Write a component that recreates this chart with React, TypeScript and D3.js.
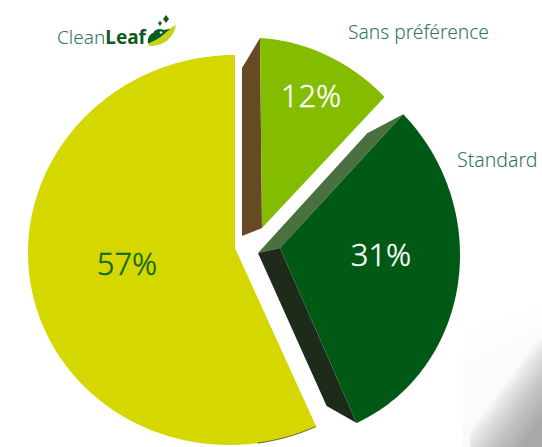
import React from "react";
import * as d3 from "d3";

const categories = ["Sans préférence", "Standard", "CleanLeaf"];
const values = [12, 31, 57];
const colors = ["#84BD00", "#005A16", "#D4D700"];
const labelColors = ["#ffffff", "#ffffff", "#0F661E"];
const labelPos = [[311, 107], [381, 266], [127, 275]];

// per-slice projection: x = e + a sin t - c cos t ; y = f + b sin t - d cos t; apex = visual tip of wedge
const projections = [
  { e: 260, f: 228, a: 182, b: 11, c: 0, d: 190, ax: 262, ay: 228 },
  { e: 280, f: 248, a: 180, b: 7, c: 0, d: 190, ax: 280, ay: 248 },
  { e: 232, f: 250, a: 204, b: 0, c: -3, d: 195, ax: 235, ay: 248 },
];

const FONT = "'Noto Sans', sans-serif";

export default function App() {
  const pie = d3.pie<number>().sort(null).value((d) => d);
  const arcs = pie(values);

  const project = (i: number, t: number): [number, number] => {
    const p = projections[i];
    return [
      p.e + p.a * Math.sin(t) - p.c * Math.cos(t),
      p.f + p.b * Math.sin(t) - p.d * Math.cos(t),
    ];
  };
  const line = d3.line();
  const outer = (i: number, t0: number, t1: number) =>
    d3.range(0, 121).map((k) => project(i, t0 + ((t1 - t0) * k) / 120));
  const wedge = (i: number) => {
    const p = projections[i];
    const pts = outer(i, arcs[i].startAngle, arcs[i].endAngle);
    return line([[p.ax, p.ay], ...pts]) + "Z";
  };
  const shift = (pt: [number, number], dx: number, dy: number): [number, number] => [pt[0] + dx, pt[1] + dy];

  const a0 = arcs[0], a1 = arcs[1], a2 = arcs[2];
  const gApex: [number, number] = [projections[0].ax, projections[0].ay];
  const gTop = project(0, a0.startAngle);
  const dApex: [number, number] = [projections[1].ax, projections[1].ay];
  const dTop = project(1, a1.startAngle);
  const dBot = project(1, a1.endAngle);

  const sideBrown = line([gTop, shift(gTop, -18, 30), shift(gApex, -20, 8), gApex]) + "Z";
  const sideLight = line([dApex, dTop, shift(dTop, -36, 19), shift(dApex, -22, 5)]) + "Z";
  const sideDark = line([dApex, dBot, shift(dBot, -30, -17), shift(dApex, -22, 5)]) + "Z";
  const rim = line(outer(2, a2.startAngle, a2.startAngle + 0.3));

  return (
    <svg width={542} height={447} viewBox="0 0 542 447" style={{ position: "absolute", left: 0, top: 0, background: "#fff" }}>
      <defs>
        <linearGradient id="corner" gradientUnits="userSpaceOnUse" x1="488" y1="405" x2="530" y2="436">
          <stop offset="0" stopColor="#a8a8a8" stopOpacity="0" />
          <stop offset="0.6" stopColor="#b8b8b8" stopOpacity="0.85" />
          <stop offset="1" stopColor="#a8a8a8" />
        </linearGradient>
        <linearGradient id="panel" gradientUnits="userSpaceOnUse" x1="463" y1="335" x2="520" y2="447">
          <stop offset="0" stopColor="#fefefe" />
          <stop offset="1" stopColor="#f8f8f8" />
        </linearGradient>
      </defs>
      <path d="M463 333L542 305V447H463Z" fill="url(#panel)" />
      <rect x={470} y={340} width={72} height={107} fill="url(#corner)" />

      <path d={sideBrown} fill="#664A24" />
      <path d={sideLight} fill="#4A7040" />
      <path d={sideDark} fill="#1E2B1A" />
      {arcs.map((_, i) => (
        <path key={categories[i]} d={wedge(i)} fill={colors[i]} />
      ))}
      <path d={rim ?? ""} fill="none" stroke="#2b2b10" strokeWidth={0.8} />

      {arcs.map((_, i) => (
        <text key={i} x={labelPos[i][0]} y={labelPos[i][1]} textAnchor="middle" fontFamily={FONT} fontWeight={300} fontSize={31} fill={labelColors[i]} stroke={labelColors[i]} strokeWidth={0.35}>
          {values[i]}%
        </text>
      ))}

      <text x={348} y={39} fontFamily={FONT} fontWeight={300} fontSize={19.2} fill="#2E7558">{categories[0]}</text>
      <text x={457} y={167} fontFamily={FONT} fontWeight={300} fontSize={19.5} fill="#2E7558">{categories[1]}</text>

      <text x={57} y={44} fontFamily={FONT} fontSize={19} fill="#2E7558">
        <tspan fontWeight={300}>Clean</tspan>
        <tspan fontWeight={700} fill="#0E5A22">Leaf</tspan>
      </text>
      {/* logo leaf */}
      <path d="M176 25C174 36 166 46 150 46C148 46 148 43 150 41C158 36 166 30 176 25Z" fill="#C5D31C" />
      <path d="M148 43C147 38 150 34 153 33C155 29 160 28 164 30C167 29 169 29 170 29C164 34 158 40 151 42C150 43 149 44 148 43Z" fill="#0E5A22" />
      <path d="M166 15L169 19L166 23L163 19Z" fill="#0E5A22" />
      <path d="M160 21L162 23L160 26L158 23Z" fill="#0E5A22" />
      <path d="M161 31L162.5 32.5L161 34L159.5 32.5Z" fill="#ffffff" />
    </svg>
  );
}
